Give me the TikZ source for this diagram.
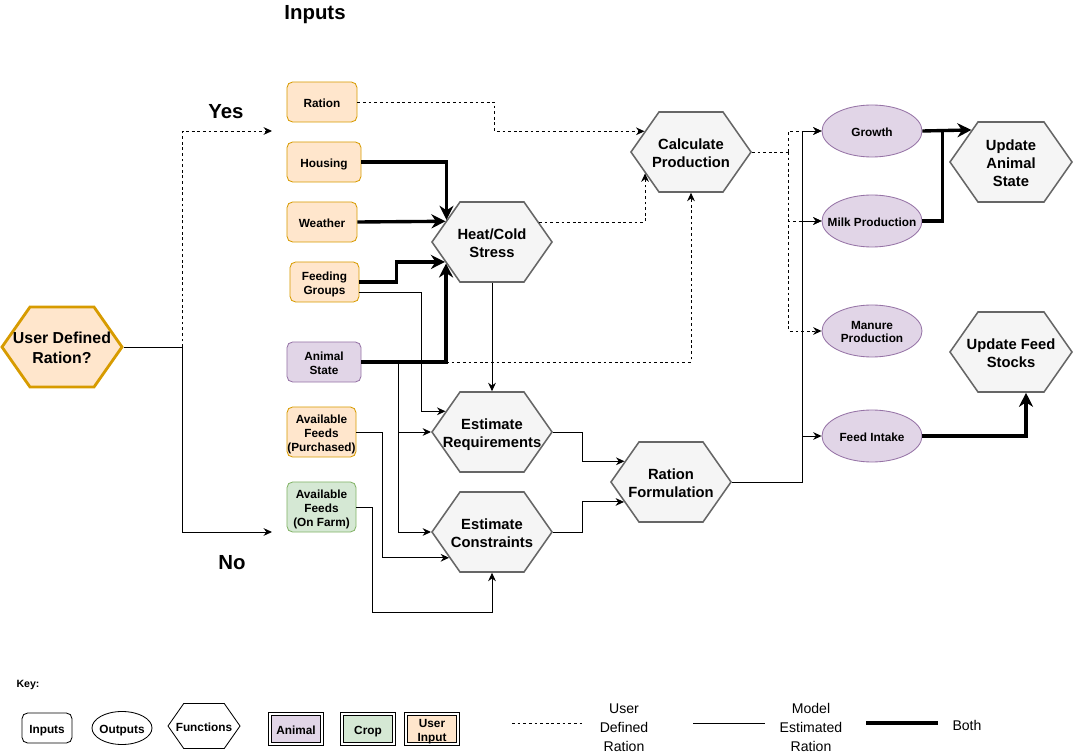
\documentclass[tikz,border=0pt]{standalone}
\usepackage{fontspec}
\setmainfont{Liberation Sans}
\usepackage{tikz}
\usetikzlibrary{arrows.meta,calc,shapes.geometric,shapes.symbols}
\definecolor{UserFill}{HTML}{FFE6CC}
\definecolor{UserLine}{HTML}{D79B00}
\definecolor{AnimalFill}{HTML}{E1D5E7}
\definecolor{AnimalLine}{HTML}{9673A6}
\definecolor{CropFill}{HTML}{D5E8D4}
\definecolor{CropLine}{HTML}{82B366}
\definecolor{FuncFill}{HTML}{F5F5F5}
\definecolor{FuncLine}{HTML}{666666}
\newcommand{\zw}[1]{\makebox[0pt]{\raisebox{-1.8pt}[\height][\depth]{\begin{tabular}{@{}c@{}}#1\end{tabular}}}}

\begin{document}
\begin{tikzpicture}[x=0.025cm,y=-0.025cm,
  arr/.style={-{Stealth[length=6pt,width=5.5pt]}},
  bigarr/.style={-{Stealth[length=10pt,width=10pt]}},
  inbox/.style={draw=UserLine,fill=UserFill,rounded corners=4pt,line width=0.6pt,minimum width=1.75cm,minimum height=1cm,inner sep=0pt,font=\bfseries\fontsize{8.4}{10}\selectfont},
  animalbox/.style={inbox,draw=AnimalLine,fill=AnimalFill},
  cropbox/.style={inbox,draw=CropLine,fill=CropFill},
  func/.style={shape=signal,signal to=east and west,signal pointer angle=110,draw=FuncLine,fill=FuncFill,line width=1.1pt,minimum width=3cm,minimum height=2cm,inner sep=0pt,font=\bfseries\fontsize{10.5}{12.8}\selectfont},
  outnode/.style={ellipse,draw=AnimalLine,fill=AnimalFill,line width=0.6pt,minimum width=2.5cm,minimum height=1.3cm,inner sep=0pt,font=\bfseries\fontsize{8.4}{9.5}\selectfont},
  keybox/.style={draw=black,double=white,double distance=1.2pt,line width=0.6pt,minimum width=1.3cm,minimum height=0.75cm,inner sep=0pt,font=\bfseries\fontsize{8.4}{10}\selectfont},
  udr/.style={line width=0.7pt,dash pattern=on 2pt off 2pt},
  mer/.style={line width=0.7pt},
  both/.style={line width=2.4pt},
  bigtxt/.style={font=\bfseries\fontsize{14.5}{17}\selectfont},
  keytxt/.style={font=\fontsize{10}{13.5}\selectfont,align=center}]
  \useasboundingbox (0,0) rectangle (1073,754);
  \node[bigtxt] (inputs) at (315,15) {Inputs};
  \node[bigtxt] (yes) at (226,112) {Yes};
  \node[bigtxt] (no) at (232,563) {No};
  \node[func,draw=UserLine,fill=UserFill,line width=2pt,font=\bfseries\fontsize{11.3}{13.7}\selectfont] (udr) at (62,347) {\zw{User Defined\\Ration?}};
  \node[inbox] (ration) at (322,102) {\zw{Ration}};
  \node[inbox,minimum width=1.85cm] (housing) at (324,162) {\zw{Housing}};
  \node[inbox] (weather) at (322,222) {\zw{Weather}};
  \node[inbox,minimum width=1.725cm] (groups) at (324.5,282) {\zw{Feeding\\Groups}};
  \node[animalbox,minimum width=1.85cm] (animal) at (324,362) {\zw{Animal\\State}};
  \node[inbox,minimum width=1.725cm,minimum height=1.25cm] (bought) at (321.5,432) {\zw{Available\\Feeds\\(Purchased)}};
  \node[cropbox,minimum width=1.725cm,minimum height=1.25cm] (farm) at (321.5,507) {\zw{Available\\Feeds\\(On Farm)}};
  \node[func] (calc) at (691,152) {\zw{Calculate\\Production}};
  \node[func] (heat) at (492,242) {\zw{Heat/Cold\\Stress}};
  \node[func] (req) at (492,432) {\zw{Estimate\\Requirements}};
  \node[func] (cons) at (492,532) {\zw{Estimate\\Constraints}};
  \node[func] (rf) at (671,482) {\zw{Ration\\Formulation}};
  \node[func,minimum width=3.05cm] (uas) at (1011,162) {\zw{Update\\Animal\\State}};
  \node[func,minimum width=3.05cm] (ufs) at (1011,352) {\zw{Update Feed\\Stocks}};
  \node[outnode] (growth) at (872,131) {\zw{Growth}};
  \node[outnode] (milk) at (872,221) {\zw{Milk Production}};
  \node[outnode] (manure) at (872,331) {\zw{Manure\\Production}};
  \node[outnode] (feed) at (872,436) {\zw{Feed Intake}};
  \draw[mer] (udr.east) -- ++(59,0) coordinate (udrsplit);
  \coordinate (yesend) at (272,131);
  \coordinate (noend) at (272,532);
  \draw[udr,arr] (udrsplit) |- (yesend);
  \draw[mer,arr] (udrsplit) |- (noend);
  \draw[udr,arr] (ration.east) -- ++(137,0) |- (calc.156.5);
  \draw[both,bigarr] (housing.east) -| (heat.154.6);
  \draw[both,bigarr] (weather.east) -- (heat.156.5);
  \draw[both,bigarr] (groups.east) -- ++(37,0) |- (heat.203.5);
  \draw[both,bigarr] (animal.east) -| (heat.205.4);
  \draw[udr,arr] (animal.east -| heat.205.4) -| (calc.south);
  \draw[mer,arr] ($(groups.east)+(0,10)$) -- ++(62,0) |- (req.156.5);
  \draw[mer,arr] (animal.east) -- ++(37,0) |- (cons.west);
  \draw[mer,arr] ($(animal.east)+(37,0)$) |- (req.west);
  \draw[mer,arr] (bought.east) -- ++(26,0) |- (cons.211.9);
  \draw[mer,arr] (farm.east) -- ++(16,0) -- ++(0,105) -| (cons.south);
  \draw[mer,arr] (heat.south) -- (req.north);
  \draw[udr,arr] (heat.23.5) -| (calc.205.4);
  \draw[mer,arr] (req.east) -- ++(30,0) |- (rf.156.5);
  \draw[mer,arr] (cons.east) -- ++(30,0) |- (rf.203.5);
  \draw[mer] (rf.east) -- ++(71,0) coordinate (rfsplit);
  \foreach \o in {growth,milk,feed}
    \draw[mer,arr] (rfsplit) |- (\o.west);
  \draw[udr] (calc.east) -- ++(37,0) coordinate (calcsplit);
  \foreach \o in {growth,milk,manure}
    \draw[udr,arr] (calcsplit) |- (\o.west);
  \draw[both,bigarr] (growth.east) -- (uas.141.7);
  \draw[both] (milk.east) -| ($(growth.east)+(20,0)$);
  \draw[both,bigarr] (feed.east) -| ($(ufs.south)+(15,0)$);
  \node[font=\bfseries\fontsize{7.5}{9}\selectfont] (keyhead) at (28,685) {Key:};
  \node[inbox,draw=black,fill=white,minimum width=1.25cm,minimum height=0.75cm] (keyin) at (47,728) {\zw{Inputs}};
  \node[outnode,draw=black,fill=white,minimum width=1.5cm,minimum height=0.825cm] (keyout) at (122,728) {\zw{Outputs}};
  \node[func,draw=black,fill=white,line width=0.6pt,minimum width=1.8cm,minimum height=1.125cm,font=\bfseries\fontsize{8.4}{10}\selectfont] (keyfunc) at (204,726) {\zw{Functions}};
  \node[keybox,fill=AnimalFill] (keyanimal) at (296,729) {\zw{Animal}};
  \node[keybox,fill=CropFill] (keycrop) at (368,729) {\zw{Crop}};
  \node[keybox,fill=UserFill] (keyuser) at (432,729) {\zw{User\\Input}};
  \node[keytxt] (udrtxt) at (624,727.5) {User\\Defined\\Ration};
  \node[keytxt] (mertxt) at (811,727.5) {Model\\Estimated\\Ration};
  \node[keytxt] (bothtxt) at (967,725) {Both};
  \draw[udr] (512,723) -- (585,723);
  \draw[mer] (693,723) -- (765,723);
  \draw[both] (866,723) -- (938,723);
\end{tikzpicture}
\end{document}
